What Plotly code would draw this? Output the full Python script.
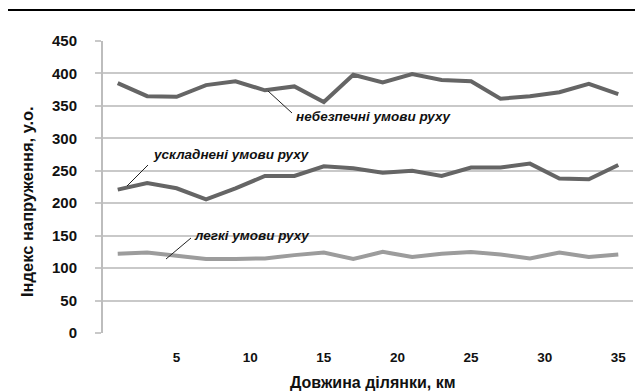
import plotly.graph_objects as go

km = [1, 3, 5, 7, 9, 11, 13, 15, 17, 19, 21, 23, 25, 27, 29, 31, 33, 35]
dangerous = [385, 365, 364, 382, 388, 374, 380, 356, 398, 386, 399, 390, 388, 361, 365, 371, 384, 368]
difficult = [221, 231, 223, 206, 223, 242, 242, 257, 254, 247, 250, 242, 255, 255, 261, 238, 237, 259]
easy = [122, 124, 119, 114, 114, 115, 120, 124, 114, 125, 117, 122, 125, 121, 115, 124, 117, 121]
x_ticks = [5, 10, 15, 20, 25, 30, 35]
y_ticks = [0, 50, 100, 150, 200, 250, 300, 350, 400, 450]
x_title = "Довжина ділянки, км"
y_title = "Індекс напруження, у.о."

FONT = "Liberation Sans, Arial, sans-serif"
L, R, T, B = 103, 2, 41, 59
W, H = 635, 392
PW, PH = W - L - R, H - T - B
XMAX, YMAX = 36, 450


def dx(px):
    return (px - L) / PW * XMAX


def dy(py):
    return (H - B - py) / PH * YMAX


def px_x(px):
    return (px - L) / PW


def px_y(py):
    return (H - B - py) / PH


fig = go.Figure()
fig.add_trace(go.Scatter(x=km, y=dangerous, mode="lines",
                         line=dict(color="#656565", width=4), showlegend=False))
fig.add_trace(go.Scatter(x=km, y=difficult, mode="lines",
                         line=dict(color="#656565", width=4), showlegend=False))
fig.add_trace(go.Scatter(x=km, y=easy, mode="lines",
                         line=dict(color="#9c9c9c", width=4), showlegend=False))

labels = [
    ("небезпечні умови руху", 294, 116, (268, 91), (292, 113)),
    ("ускладнені умови руху", 151, 154, (127, 186), (148, 165)),
    ("легкі умови руху", 192, 235, (166, 259), (191, 238)),
]
for text, tx, ty, p0, p1 in labels:
    fig.add_annotation(x=dx(tx), y=dy(ty), xref="x", yref="y", text=f"<b><i>{text}</i></b>",
                       showarrow=False, xanchor="left", yanchor="middle",
                       font=dict(family=FONT, size=13.5, color="#111"))
    fig.add_shape(type="line", xref="x", yref="y", x0=dx(p0[0]), y0=dy(p0[1]),
                  x1=dx(p1[0]), y1=dy(p1[1]), line=dict(color="#222", width=1))

# axis titles
fig.add_annotation(x=px_x(373), y=px_y(382), xref="paper", yref="paper",
                   text=f"<b>{x_title}</b>", showarrow=False,
                   xanchor="center", yanchor="middle",
                   font=dict(family=FONT, size=16, color="#111"))
fig.add_annotation(x=px_x(27), y=px_y(202), xref="paper", yref="paper",
                   text=f"<b>{y_title}</b>", showarrow=False, textangle=-90,
                   xanchor="center", yanchor="middle",
                   font=dict(family=FONT, size=16.5, color="#111"))

# top rule
fig.add_shape(type="line", xref="paper", yref="paper",
              x0=px_x(8), x1=px_x(W), y0=px_y(10), y1=px_y(10),
              line=dict(color="black", width=2))

fig.update_xaxes(range=[0, XMAX], tickvals=x_ticks, ticktext=[f"<b>{v}</b>" for v in x_ticks],
                 showgrid=False, zeroline=False, showline=False, ticks="",
                 ticklabelstandoff=14, ticklabeloverflow="allow",
                 tickfont=dict(family=FONT, size=13.5, color="#111"))
fig.update_yaxes(range=[0, YMAX], tickvals=y_ticks, ticktext=[f"<b>{v}</b>" for v in y_ticks],
                 showgrid=True, gridcolor="#c9c9c9", gridwidth=2, zeroline=False,
                 showline=True, linecolor="#bdbdbd", linewidth=2,
                 ticks="outside", ticklen=6, tickcolor="#c9c9c9", tickwidth=2,
                 ticklabelstandoff=15,
                 tickfont=dict(family=FONT, size=15, color="#111"))

fig.update_layout(width=W, height=H, margin=dict(l=L, r=R, t=T, b=B),
                  plot_bgcolor="white", paper_bgcolor="white")
fig.update_traces(cliponaxis=False)
fig.write_html("out.html", config={"displayModeBar": False},
               post_script="document.body.style.margin='0';document.body.style.padding='0';")
